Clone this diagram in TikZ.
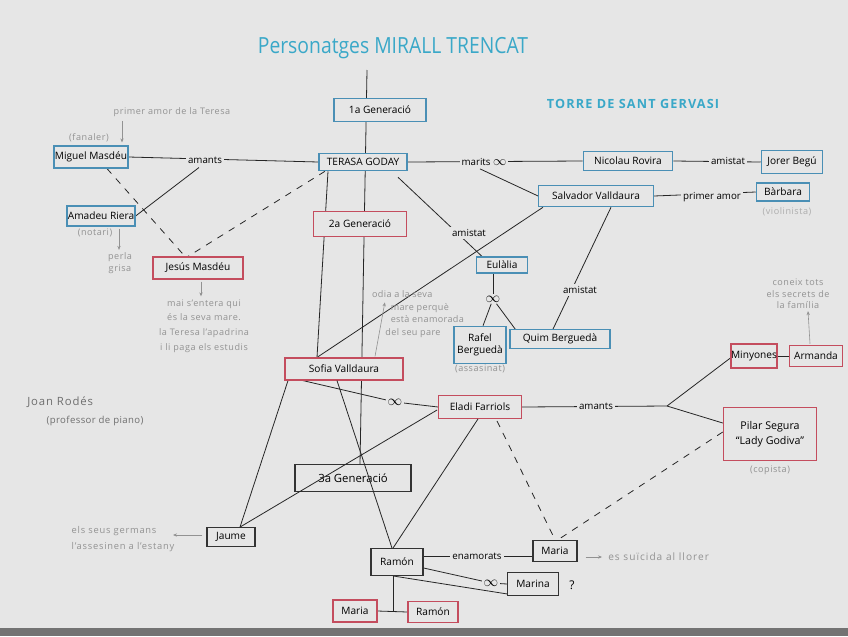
\documentclass[tikz,border=0pt]{standalone}
\usepackage{fontspec}
\setmainfont{Open Sans}
\usetikzlibrary{arrows.meta,calc}
\definecolor{paper}{HTML}{E6E6E6}
\definecolor{bluebox}{HTML}{4A8FB5}
\definecolor{redbox}{HTML}{C44D5E}
\definecolor{titlecyan}{HTML}{3AA8C8}
\definecolor{notegray}{HTML}{929292}
\definecolor{darknote}{HTML}{6E6E6E}
\pgfdeclarelayer{bg}
\pgfsetlayers{bg,main}
\tikzset{
  box/.style={draw, fill=paper, line width=0.9pt, inner sep=0pt, align=center,
              font=\fontsize{7.6}{9}\selectfont},
  bb/.style={box, draw=bluebox},
  rb/.style={box, draw=redbox},
  kb/.style={box, draw=black!80},
  lbl/.style={fill=paper, inner sep=1.5pt, font=\fontsize{7.3}{8}\selectfont},
  inflbl/.style={fill=paper, inner sep=1pt, font=\fontsize{11}{11}\selectfont},
  notetext/.style={text=notegray, inner sep=0pt, align=center,
                   font=\fontsize{6.8}{8.6}\selectfont\addfontfeatures{LetterSpace=6}},
  link/.style={draw=black!85, line width=0.6pt},
  dlink/.style={link, dash pattern=on 5pt off 5pt},
  arr/.style={draw=notegray, line width=0.45pt, -{Stealth[length=3pt,width=2.5pt]}}
}
\begin{document}
\begin{tikzpicture}[x=0.75pt,y=-0.75pt]
\useasboundingbox (0,0) rectangle (848,636);
\begin{pgfonlayer}{bg}
  \fill[paper] (0,0) rectangle (848,636);
  \fill[black!55] (0,628) rectangle (848,636);
\end{pgfonlayer}

% titles
\node[text=titlecyan, font=\fontsize{14.5}{16}\selectfont, inner sep=0pt, yscale=1.15] (title) at (393,48) {Personatges MIRALL TRENCAT};
\node[text=titlecyan, font=\bfseries\fontsize{9.5}{11}\selectfont\addfontfeatures{LetterSpace=9}, inner sep=0pt] (torre) at (633,104) {TORRE DE SANT GERVASI};

% people / boxes
\node[bb, minimum width=69pt, minimum height=17pt] (g1) at (380,110) {1a Generació};
\node[bb, minimum width=66pt, minimum height=13pt] (teresa) at (363,162) {TERASA GODAY};
\node[bb, minimum width=55.5pt, minimum height=16.5pt] (miguel) at (91,157) {Miguel Masdéu};
\node[bb, minimum width=51pt, minimum height=15pt] (amadeu) at (101,216) {Amadeu Riera};
\node[rb, minimum width=67.5pt, minimum height=16.5pt] (jesus) at (198,268) {Jesús Masdéu};
\node[rb, minimum width=70pt, minimum height=19pt] (g2) at (360,224) {2a Generació};
\node[bb, minimum width=38pt, minimum height=12pt] (eulalia) at (502,265) {Eulàlia};
\node[bb, minimum width=67pt, minimum height=14pt] (nicolau) at (628,161) {Nicolau Rovira};
\node[bb, minimum width=46pt, minimum height=17pt] (jorer) at (792,162) {Jorer Begú};
\node[bb, minimum width=86pt, minimum height=16pt] (salvador) at (596,196) {Salvador Valldaura};
\node[bb, minimum width=40pt, minimum height=13.5pt] (barbara) at (783,192) {Bàrbara};
\node[bb, minimum width=39pt, minimum height=28pt] (rafel) at (480,345) {Rafel\\Berguedà};
\node[bb, minimum width=75pt, minimum height=14pt] (quim) at (560,339) {Quim Berguedà};
\node[rb, minimum width=88.5pt, minimum height=16.5pt] (sofia) at (344,369) {Sofia Valldaura};
\node[rb, minimum width=62pt, minimum height=17pt] (eladi) at (480,407) {Eladi Farriols};
\node[rb, minimum width=34.5pt, minimum height=18pt] (minyones) at (754,356) {Minyones};
\node[rb, minimum width=40pt, minimum height=16pt] (armanda) at (816,356) {Armanda};
\node[rb, minimum width=70pt, minimum height=40pt, font=\fontsize{8}{11.5}\selectfont] (pilar) at (770,434) {Pilar Segura\\``Lady Godiva''};
\node[kb, fill=none, line width=1.1pt, minimum width=87pt, minimum height=20pt, font=\fontsize{8.5}{9}\selectfont] (g3) at (353,478) {3a Generació};
\node[kb, minimum width=36pt, minimum height=14pt] (jaume) at (231,537) {Jaume};
\node[kb, minimum width=33pt, minimum height=16pt] (maria1) at (555,551) {Maria};
\node[kb, minimum width=39pt, minimum height=20pt] (ramon) at (397,562) {Ramón};
\node[kb, minimum width=38pt, minimum height=17pt] (marina) at (533,584) {Marina};
\node[rb, minimum width=33pt, minimum height=16.5pt] (maria2) at (355,611) {Maria};
\node[rb, minimum width=37.5pt, minimum height=16pt] (ramon2) at (433,612) {Ramón};

% relation labels
\node[lbl] (amants1) at (205,160) {amants};
\node[lbl] (marits) at (484,162) {marits {\fontsize{10}{10}\selectfont$\infty$}};
\node[lbl] (amistat1) at (469,233) {amistat};
\node[lbl] (amistat2) at (728,161) {amistat};
\node[lbl] (primeramor) at (712,197) {primer amor};
\node[lbl] (amistat3) at (580,290) {amistat};
\node[inflbl] (inf1) at (493,299) {$\infty$};
\node[inflbl] (inf2) at (395,402) {$\infty$};
\node[lbl] (amants2) at (596,406) {amants};
\node[lbl] (enamorats) at (477,556) {enamorats};
\node[inflbl] (inf3) at (491,583) {$\infty$};
\node[font=\fontsize{9}{9}\selectfont, inner sep=0pt] (quest) at (572,585) {?};
\coordinate (fork) at (667,406);
\coordinate (top) at (367,70);
\coordinate (gtip) at (173,535);

% notes
\node[notetext] (primer) at (172,112) {primer amor de la Teresa};
\node[notetext] (fanaler) at (89,138) {(fanaler)};
\node[notetext] (notari) at (95,233) {(notari)};
\node[notetext, font=\fontsize{6.8}{9.5}\selectfont\addfontfeatures{LetterSpace=6}] (perla) at (120,263) {perla\\grisa};
\node[notetext, font=\fontsize{6.8}{11}\selectfont\addfontfeatures{LetterSpace=6}] (mai) at (204,326) {mai s'entera qui\\és la seva mare.\\la Teresa l'apadrina\\i li paga els estudis};
\node[text=darknote, inner sep=0pt, font=\fontsize{8.5}{10}\selectfont\addfontfeatures{LetterSpace=8}, anchor=west] (joan) at (27,402) {Joan Rodés};
\node[text=darknote, inner sep=0pt, font=\fontsize{7.2}{8}\selectfont\addfontfeatures{LetterSpace=4}] (profe) at (95,421) {(professor de piano)};
\node[notetext, align=left, font=\fontsize{6.8}{9.4}\selectfont\addfontfeatures{LetterSpace=4}] (odia) at (418,314) {odia a la seva\\\hspace{14pt}mare perquè\\\hspace{14pt}està enamorada\\\hspace{10pt}del seu pare};
\node[notetext, text=notegray!75] (violin) at (787,212) {(violinista)};
\node[notetext] (assas) at (480,369) {(assasinat)};
\node[notetext, font=\fontsize{6.8}{8.6}\selectfont\addfontfeatures{LetterSpace=6}] (coneix) at (798,294) {coneix tots\\els secrets de\\la família};
\node[notetext] (copista) at (770,470) {(copista)};
\node[notetext, align=left, font=\fontsize{7}{12}\selectfont\addfontfeatures{LetterSpace=8}] (germans) at (123,539) {els seus germans\\l'assesinen a l'estany};
\node[notetext, anchor=west, font=\fontsize{7.6}{9}\selectfont\addfontfeatures{LetterSpace=10}] (suicida) at (608,557) {es suïcida al llorer};

\begin{pgfonlayer}{bg}
  % generation spine
  \draw[link] (top) -- ($(g3.north)+(7,0)$);
  % first generation
  \draw[link] (miguel.east) -- (teresa.west);
  \draw[link] ($(amants1.south)+(-6,2)$) -- (amadeu.east);
  \draw[dlink] ($(miguel.south)+(16,0)$) -- ($(jesus.north)+(-13,0)$);
  \draw[dlink] ($(teresa.south)+(-38,0)$) -- ($(jesus.north)+(-10,0)$);
  \draw[link] (teresa.east) -- (nicolau.west);
  \draw[link] ($(marits.south)+(-4,1)$) -- (salvador.west);
  \draw[link] (nicolau.east) -- (jorer.west);
  \draw[link] (salvador.east) -- (barbara.west);
  \draw[link] ($(teresa.south)+(35,6)$) -- ($(eulalia.north)+(-20,0)$);
  \draw[link] ($(salvador.south)+(-53,0)$) -- ($(sofia.north)+(-27,0)$);
  \draw[link] ($(salvador.south)+(15,0)$) -- ($(quim.north)+(-7,0)$);
  \draw[link] ($(eulalia.south)+(-9,0)$) -- (inf1);
  \draw[link] (inf1) -- ($(rafel.north)+(3,0)$);
  \draw[link] (inf1) -- ($(quim.north west)+(8,3)$);
  \draw[link] ($(teresa.south)+(-35,0)$) -- ($(sofia.north)+(-27,0)$);
  % second generation
  \draw[link] ($(sofia.south)+(-56,0)$) -- ($(jaume.north)+(9,0)$);
  \draw[link] ($(sofia.south)+(-41,0)$) -- (inf2);
  \draw[link] (inf2) -- (eladi.west);
  \draw[link] (eladi.east) -- (fork);
  \draw[link] (fork) -- ($(minyones.west)+(0,2)$);
  \draw[link] (fork) -- ($(pilar.west)+(0,-11)$);
  \draw[link] (minyones.east) -- (armanda.west);
  \draw[dlink] ($(eladi.south)+(17,2)$) -- (maria1.north);
  \draw[dlink] ($(pilar.west)+(0,-2)$) -- ($(maria1.north)+(3,0)$);
  % third generation
  \draw[link] ($(ramon.east)+(0,-6)$) -- ($(maria1.west)+(0,5)$);
  \draw[link] ($(ramon.east)+(0,6)$) -- (inf3);
  \draw[link] (inf3) -- (marina.west);
  \draw[link] ($(ramon.south)+(-4,0)$) -- ($(marina.south west)+(0,-2)$);
  \coordinate (rk) at ($(ramon.south)+(-4,0)$);
  \draw[link] (rk) -- (rk |- maria2.east);
  \draw[link] (maria2.east) -- (ramon2.west);
  % annotation arrows
  \draw[arr] ($(primer.south)+(-50,4)$) -- ($(miguel.north)+(31,-3)$);
  \draw[arr] ($(amadeu.south)+(18,2)$) -- ($(perla.north)+(-1,-2)$);
  \draw[arr] ($(jesus.south)+(3,2)$) -- ($(mai.north)+(-3,-3)$);
  \draw[arr] ($(sofia.north)+(31,-1)$) -- ($(odia.north west)+(13,12)$);
  \draw[arr] ($(armanda.north)+(-6,-1)$) -- ($(coneix.south)+(10,2)$);
  \draw[arr] ($(jaume.west)+(-4,-2)$) -- (gtip);
  \draw[arr] ($(maria1.east)+(8,6)$) -- ($(suicida.west)+(-6,0)$);
\end{pgfonlayer}
% lines drawn over 3a Generacio box
\draw[link] ($(eladi.west)+(-1,3)$) -- ($(jaume.north)+(9,0)$);
\draw[link] ($(sofia.south)+(-7,0)$) -- ($(ramon.north)+(-5,0)$);
\draw[link] ($(eladi.south)+(-2,0)$) -- ($(ramon.north)+(-4,0)$);
\end{tikzpicture}
\end{document}
